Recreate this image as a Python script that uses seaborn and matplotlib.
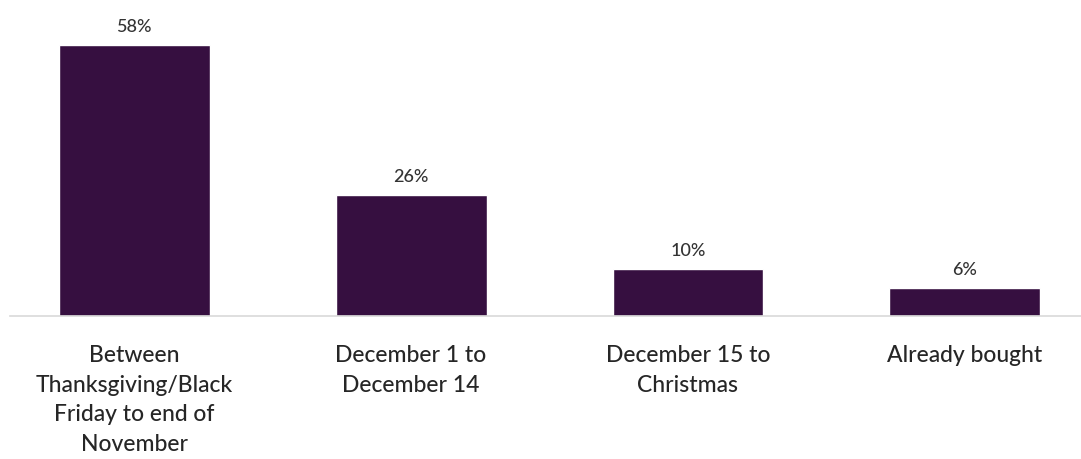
import matplotlib
matplotlib.use("Agg")
import matplotlib.pyplot as plt
import seaborn as sns
import pandas as pd

categories = [
    "Between\nThanksgiving/Black\nFriday to end of\nNovember",
    "December 1 to\nDecember 14",
    "December 15 to\nChristmas",
    "Already bought",
]
shares = [58, 26, 10, 6]

sns.set_theme(style="white")
plt.rcParams["font.family"] = ["Lato", "DejaVu Sans"]

df = pd.DataFrame({"period": categories, "share": shares})

fig = plt.figure(figsize=(10.81, 4.60), dpi=100)
ax = fig.add_axes([10 / 1081, (460 - 317) / 460, 1 - 10 / 1081, 317 / 460])

sns.barplot(data=df, x="period", y="share", color="#360f40", saturation=1,
            width=0.545, ax=ax)

ax.set_xlim(-0.448, 3.419)
ax.set_ylim(0, 67.9)

ax.bar_label(ax.containers[0], fmt="%.0f%%", padding=8,
             fontsize=13, fontweight="medium", color="#333333")

for s in ["top", "right", "left"]:
    ax.spines[s].set_visible(False)
ax.spines["bottom"].set_color("#d9d9d9")
ax.spines["bottom"].set_linewidth(1.2)

ax.set_xlabel("")
ax.set_ylabel("")
ax.set_yticks([])
ax.tick_params(axis="x", length=0, pad=20)
for t in ax.get_xticklabels():
    t.set_fontsize(16.5)
    t.set_fontweight("medium")
    t.set_color("#262626")
    t.set_linespacing(1.52)
    t.set_va("top")

fig.savefig("out.png", dpi=100)
